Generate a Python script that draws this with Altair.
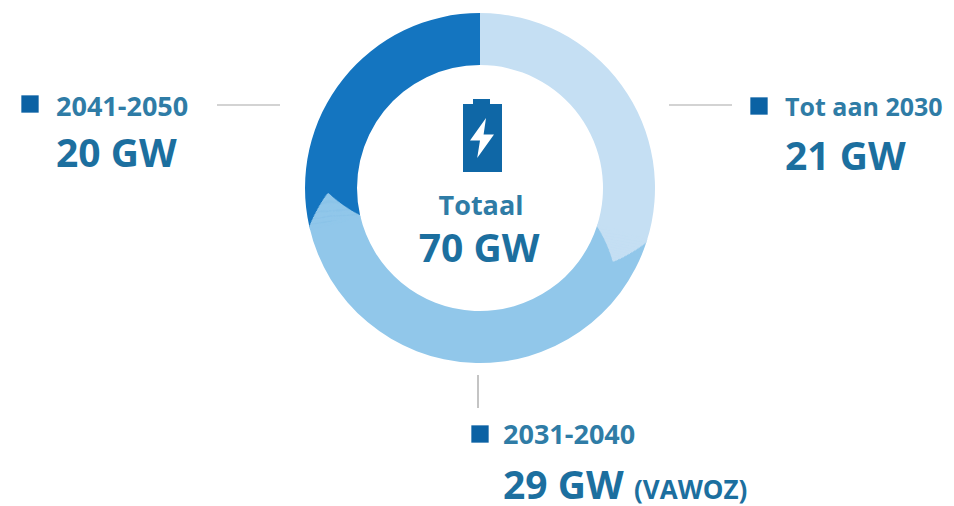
import math
import altair as alt
import pandas as pd

segments = ["Tot aan 2030", "2031-2040", "2041-2050"]
values = [21, 29, 20]
colors = ["#c5dff3", "#91c7ea", "#1475c0"]
TOTAL = sum(values)

OX, OY = 8, 8          # page margin
CX, CY = 480 - OX, 188 - OY
R_IN, R_OUT, R_TIP = 123, 175, 152
TIP_DEG = 11.0         # how far a slice's pointed end reaches past its boundary
TEXT = "#1c6f9f"
SUB = "#2f7ca6"
SQUARE = "#0b62a4"
RULE = "#c4c4c4"
FONT = "Open Sans"

def px(v): return alt.value(v - OX)
def py(v): return alt.value(v - OY)

one = alt.Data(values=[{"k": 0}])

# ---- ring -------------------------------------------------------------
rows, start = [], 0
for name, v in zip(segments, values):
    rows.append(dict(segment=name, t0=start, t1=start + v, r0=R_IN, r1=R_OUT))
    if name != segments[-1]:
        for r in range(R_IN, R_OUT):
            mid = r + 0.75
            if mid <= R_TIP:
                f = (mid - R_IN) / (R_TIP - R_IN)
            else:
                f = (R_OUT - mid) / (R_OUT - R_TIP)
            rows.append(dict(segment=name, t0=start + v - 0.2,
                             t1=start + v + TIP_DEG * f * TOTAL / 360,
                             r0=r, r1=min(r + 1.6, R_OUT)))
    start += v
ring_df = pd.DataFrame(rows)

theta_scale = alt.Scale(domain=[0, TOTAL], range=[0, 2 * math.pi])
ring_layers = []
for name, col in zip(reversed(segments), reversed(colors)):
    ring_layers.append(
        alt.Chart(ring_df[ring_df.segment == name]).mark_arc(color=col, stroke=None).encode(
            theta=alt.Theta("t0:Q", scale=theta_scale),
            theta2="t1:Q",
            radius=alt.Radius("r1:Q", scale=None),
            radius2="r0:Q",
            x=alt.value(CX), y=alt.value(CY),
        )
    )

# ---- text -------------------------------------------------------------
def label(txt, x, y, size, color=TEXT, align="left", weight="bold"):
    return alt.Chart(one).mark_text(
        text=txt, font=FONT, fontSize=size, fontWeight=weight, color=color,
        align=align, baseline="middle",
    ).encode(x=px(x), y=py(y))

def square(x, y):
    return alt.Chart(one).mark_square(size=300, color=SQUARE, opacity=1).encode(x=px(x), y=py(y))

def hrule(x0, x1, y):
    return alt.Chart(one).mark_rule(color=RULE, strokeWidth=1.6).encode(x=px(x0), x2=px(x1), y=py(y))

texts = [
    square(30, 104), label("2041-2050", 56, 108, 27, SUB), label("20 GW", 56, 155, 39),
    square(759, 106), label("Tot aan 2030", 785, 108, 25, SUB), label("21 GW", 785, 158, 39),
    square(480, 434), label("2031-2040", 503, 436, 27, SUB), label("29 GW", 503, 487, 39),
    label("(VAWOZ)", 634, 491, 26),
    label("Totaal", 481, 207, 27, SUB, "center"), label("70 GW", 479, 250, 39, TEXT, "center"),
    hrule(217, 280, 105), hrule(669, 732, 105),
    alt.Chart(one).mark_rule(color=RULE, strokeWidth=2).encode(x=px(478), y=py(375), y2=py(408)),
]

# ---- battery icon -----------------------------------------------------
def rect(x0, x1, y0, y1, col):
    return alt.Chart(one).mark_rect(color=col).encode(x=px(x0), x2=px(x1), y=py(y0), y2=py(y1))

BOLT = "M 0.2 -1 L -0.6 0.12 L -0.1 0.12 L -0.24 1 L 0.6 -0.18 L 0.08 -0.18 Z"
icon = [
    rect(463, 502, 104, 172, "#0f67a6"),
    rect(473, 490, 99, 104, "#0f67a6"),
    alt.Chart(one).mark_point(shape=BOLT, filled=True, color="#ffffff", opacity=1, size=1600).encode(
        x=px(482), y=py(138)),
]

chart = alt.layer(*ring_layers, *icon, *texts).properties(
    width=938, height=498, padding=0, autosize="none", background="#ffffff"
).configure_view(stroke=None)

chart.save("out.html", embed_options={"renderer": "svg", "actions": False})
